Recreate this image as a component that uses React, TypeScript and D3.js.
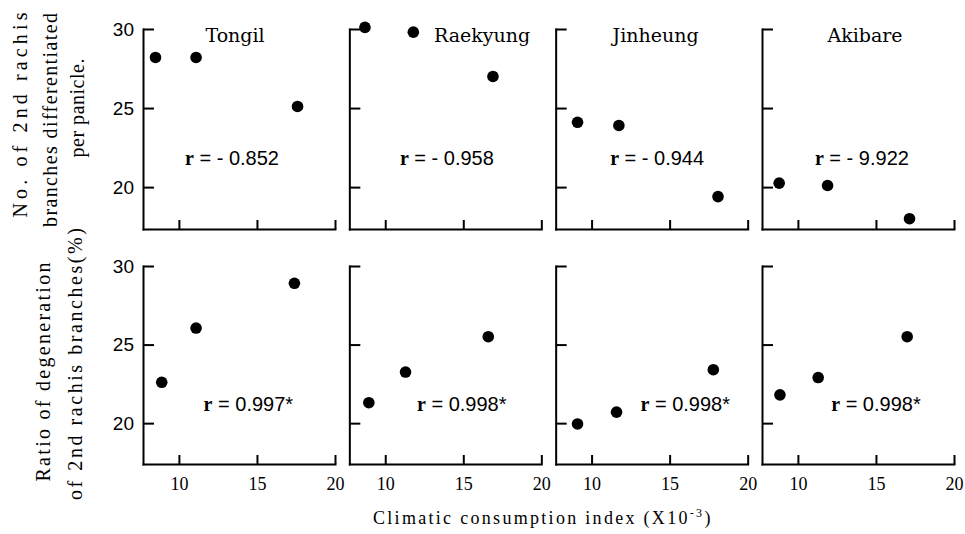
import React, { useEffect, useRef } from "react";
import * as d3 from "d3";

const varieties = ["Tongil", "Raekyung", "Jinheung", "Akibare"];

// climatic consumption index (x10^-3) of the three plantings, per variety
const cciTop = [
  [8.5, 11.1, 17.6],
  [8.7, 11.8, 16.9],
  [9.1, 11.75, 18.1],
  [8.8, 11.9, 17.15],
];
// no. of 2nd rachis branches differentiated per panicle
const branchesDiff = [
  [28.2, 28.2, 25.1],
  [30.1, 29.8, 27.0],
  [24.1, 23.9, 19.4],
  [20.25, 20.1, 18.0],
];

const cciBottom = [
  [8.9, 11.1, 17.4],
  [8.95, 11.3, 16.6],
  [9.1, 11.6, 17.8],
  [8.85, 11.3, 17.0],
];
// ratio of degeneration of 2nd rachis branches (%)
const degenRatio = [
  [22.6, 26.05, 28.9],
  [21.3, 23.25, 25.5],
  [19.95, 20.7, 23.4],
  [21.8, 22.9, 25.5],
];

const rTop = ["r = - 0.852", "r = - 0.958", "r = - 0.944", "r = - 9.922"];
const rBottom = ["r = 0.997*", "r = 0.998*", "r = 0.998*", "r = 0.998*"];

const xTicks = [10, 15, 20];
const yTicks = [20, 25, 30];

// where the annotations sit, in x-axis units
const titleAt = [13.6, 16.2, 14.1, 14.3];
const rTopAt = [13.4, 13.95, 14.2, 14.1];
const rBottomAt = [14.45, 14.9, 16.0, 15.0];

const SERIF = "'Liberation Serif', 'DejaVu Serif', serif";
const SANS = "'Liberation Sans', Arial, sans-serif";

const App = () => {
  const ref = useRef<SVGSVGElement>(null);

  useEffect(() => {
    const svg = d3.select(ref.current);
    svg.selectAll("*").remove();

    const panelX = d3.scalePoint<string>().domain(varieties).range([143, 762]);
    const x = d3.scaleLinear().domain([7.7, 20]).range([0, 192]);
    const rows = [
      {
        y: d3.scaleLinear().domain([17.35, 30]).range([229, 29]),
        xs: cciTop,
        ys: branchesDiff,
        r: rTop,
        rAt: rTopAt,
        rY: 21.4,
        labels: false,
      },
      {
        y: d3.scaleLinear().domain([17.4, 30]).range([464, 266]),
        xs: cciBottom,
        ys: degenRatio,
        r: rBottom,
        rAt: rBottomAt,
        rY: 20.75,
        labels: true,
      },
    ];

    rows.forEach((row, ri) => {
      varieties.forEach((name, i) => {
        const g = svg
          .append("g")
          .attr("transform", `translate(${panelX(name)},0)`);

        const yAxis = g
          .append("g")
          .call(
            d3
              .axisLeft(row.y)
              .tickValues(yTicks)
              .tickSizeInner(-11)
              .tickSizeOuter(0)
              .tickPadding(9)
              .tickFormat((d) => (i === 0 ? String(d) : ""))
          );

        const xAxis = g
          .append("g")
          .attr("transform", `translate(0,${row.y.range()[0]})`)
          .call(
            d3
              .axisBottom(x)
              .tickValues(xTicks)
              .tickSizeInner(-9)
              .tickSizeOuter(0)
              .tickPadding(13)
              .tickFormat((d) => (row.labels ? String(d) : ""))
          );

        [yAxis, xAxis].forEach((a) => {
          a.select(".domain")
            .attr("stroke", "#000")
            .attr("stroke-width", 2)
            .attr("stroke-linecap", "square");
          a.selectAll(".tick line").attr("stroke", "#000").attr("stroke-width", 2);
        });
        yAxis
          .selectAll(".tick text")
          .attr("font-family", SANS)
          .attr("font-size", 19)
          .attr("fill", "#000");
        xAxis
          .selectAll(".tick text")
          .attr("font-family", SERIF)
          .attr("font-size", 18)
          .attr("fill", "#000");

        g.selectAll("circle.pt")
          .data(row.xs[i].map((v, k) => [v, row.ys[i][k]]))
          .enter()
          .append("circle")
          .attr("class", "pt")
          .attr("cx", (d) => x(d[0]))
          .attr("cy", (d) => row.y(d[1]))
          .attr("r", 5.8)
          .attr("fill", "#000");

        if (ri === 0) {
          g.append("text")
            .attr("x", x(titleAt[i]))
            .attr("y", row.y(30) + 13)
            .attr("text-anchor", "middle")
            .attr("font-family", "'DejaVu Serif', serif")
            .attr("font-size", 19)
            .text(name);
        }

        const parts = row.r[i].split(/^r/);
        const rt = g
          .append("text")
          .attr("x", x(row.rAt[i]))
          .attr("y", row.y(row.rY))
          .attr("text-anchor", "middle")
          .attr("font-size", 20)
          .attr("xml:space", "preserve");
        rt.append("tspan")
          .attr("font-family", SERIF)
          .attr("font-weight", "bold")
          .text("r");
        rt.append("tspan").attr("font-family", SANS).text(parts[1]);
      });
    });

    // axis titles
    const yLabels = [
      { text: "No. of  2nd rachis", cx: 20, cy: 115, len: 205 },
      { text: "branches differentiated", cx: 50, cy: 120, len: 214 },
      { text: "per panicle.", cx: 77, cy: 108, len: 99 },
      { text: "Ratio of degeneration", cx: 43, cy: 372, len: 219 },
      { text: "of  2nd rachis branches(%)", cx: 75, cy: 364, len: 272 },
    ];
    yLabels.forEach((l) => {
      svg
        .append("text")
        .attr("transform", `translate(${l.cx},${l.cy}) rotate(-90)`)
        .attr("text-anchor", "middle")
        .attr("dy", "0.35em")
        .attr("font-family", SERIF)
        .attr("font-size", 20)
        .attr("textLength", l.len)
        .attr("lengthAdjust", "spacing")
        .text(l.text);
    });

    const xl = svg
      .append("text")
      .attr("x", 373)
      .attr("y", 524)
      .attr("font-family", SERIF)
      .attr("font-size", 18)
      .attr("letter-spacing", 2.3);
    xl.append("tspan").text("Climatic consumption index (X10");
    xl.append("tspan").attr("dy", -7).attr("font-size", 12).text("-3");
    xl.append("tspan").attr("dy", 7).text(")");
  }, []);

  return (
    <svg
      ref={ref}
      width={965}
      height={534}
      style={{ position: "absolute", left: 0, top: 0, background: "#fff" }}
    />
  );
};

export default App;
